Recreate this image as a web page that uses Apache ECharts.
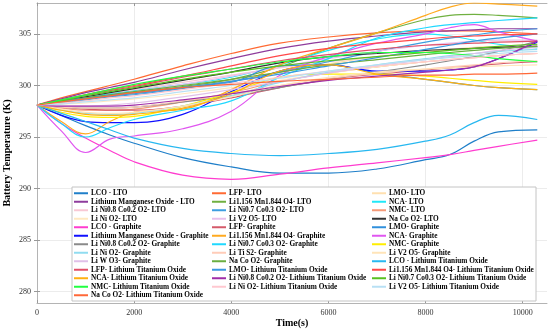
<!DOCTYPE html>
<html>
<head>
<meta charset="utf-8">
<script src="https://cdn.jsdelivr.net/npm/echarts@6/dist/echarts.min.js"></script>
<style>html,body{margin:0;padding:0;background:#fff}#c{width:550px;height:329px}</style>
</head>
<body>
<div id="c"></div>
<script>
var times = [0,500,1000,1500,2000,3000,4000,5000,6000,7000,8000,8500,9000,9500,10300];
var xTicks = [0,2000,4000,6000,8000,10000];
var yTicks = [280,285,290,295,300,305];

var names = [
 'LCO - LTO','LFP- LTO','LMO- LTO',
 'Lithium Manganese Oxide - LTO','Li1.156 Mn1.844 O4- LTO','NCA- LTO',
 'Li Ni0.8 Co0.2 O2- LTO','Li Ni0.7 Co0.3 O2- LTO','NMC- LTO',
 'Li Ni O2- LTO','Li V2 O5- LTO','Na Co O2- LTO',
 'LCO - Graphite','LFP- Graphite','LMO- Graphite',
 'Lithium Manganese Oxide - Graphite','Li1.156 Mn1.844 O4- Graphite','NCA- Graphite',
 'Li Ni0.8 Co0.2 O2- Graphite','Li Ni0.7 Co0.3 O2- Graphite','NMC- Graphite',
 'Li Ni O2- Graphite','Li Ti S2- Graphite','Li V2 O5- Graphite',
 'Li W O3- Graphite','Na Co O2- Graphite','LCO - Lithium Titanium Oxide',
 'LFP- Lithium Titanium Oxide','LMO- Lithium Titanium Oxide','Li1.156 Mn1.844 O4- Lithium Titanium Oxide',
 'NCA- Lithium Titanium Oxide','Li Ni0.8 Co0.2 O2- Lithium Titanium Oxide','Li Ni0.7 Co0.3 O2- Lithium Titanium Oxide',
 'NMC- Lithium Titanium Oxide','Li Ni O2- Lithium Titanium Oxide','Li V2 O5- Lithium Titanium Oxide',
 'Na Co O2- Lithium Titanium Oxide'
];

var colors = [
 '#1f7fc9','#ff6a33','#ffe0b0',
 '#8e3c9c','#70b040','#20e8f8',
 '#f8c8d4','#3d9ee0','#f59a78',
 '#ffe8c0','#e8c0ec','#303030',
 '#ff3ccf','#d45a6a','#3090dc',
 '#1010ff','#ffaa20','#e056f0',
 '#8a8a8a','#20d8ff','#ffee00',
 '#90dcf0','#ffccb8','#ffe4b8',
 '#e0c0e8','#6aae40','#28b8f0',
 '#e05068','#3a98e0','#ff4848',
 '#ffb010','#a02ca8','#58c020',
 '#20ff40','#ffc8d0','#b8e0f4',
 '#ff6838'
];

var s01 = [298.1,297.1,296.1,295.2,294.4,293.0,292.1,291.5,291.5,291.9,292.8,293.3,294.6,295.5,295.7];
var s02 = [298.1,298.8,299.4,300.0,300.6,301.9,303.1,304.1,304.7,305.1,305.3,305.3,305.3,305.2,305.0];
var s03 = [298.1,298.3,298.6,298.9,299.2,299.8,300.5,301.3,302.1,302.8,303.3,303.5,303.7,303.8,304.0];
var s04 = [298.1,298.7,299.3,299.8,300.3,301.5,302.6,303.6,304.3,304.8,305.2,305.3,305.4,305.5,305.5];
var s05 = [298.1,298.4,298.7,299.0,299.3,299.9,300.6,301.8,303.6,305.1,306.4,306.8,306.9,306.8,306.55];
var s06 = [298.1,298.5,298.9,299.2,299.5,300.1,300.8,302.0,303.4,304.5,305.0,304.8,304.4,304.0,303.65];
var s07 = [298.1,298.5,298.9,299.3,299.6,300.3,301.0,301.7,302.3,302.8,303.2,303.4,303.6,303.7,303.9];
var s08 = [298.1,298.3,298.6,298.9,299.1,299.7,300.4,301.3,302.3,303.3,304.2,304.6,304.9,305.2,305.5];
var s09 = [298.1,297.8,297.6,297.6,297.7,298.4,299.3,300.4,301.2,301.8,302.3,302.5,302.7,302.9,303.1];
var s10 = [298.1,298.2,298.3,298.5,298.7,299.2,299.8,300.5,301.2,301.8,302.3,302.5,302.7,302.9,303.1];
var s11 = [298.1,298.4,298.7,299.1,299.4,300.1,300.9,301.8,302.6,303.3,303.9,304.1,304.3,304.4,304.4];
var s12 = [298.1,298.5,298.9,299.3,299.7,300.5,301.3,302.2,302.8,303.1,303.4,303.5,303.6,303.7,303.8];
var s13 = [298.1,296.3,294.9,293.7,292.6,291.3,290.9,291.4,292.0,292.5,293.0,293.3,293.7,294.1,294.7];
var s14 = [298.1,297.9,297.7,297.6,297.6,298.0,298.8,299.8,300.6,301.1,301.5,301.7,301.9,302.1,302.3];
var s15 = [298.1,298.5,298.8,299.1,299.3,299.8,300.3,301.9,302.0,301.2,300.6,300.3,300.0,299.8,299.6];
var s16 = [298.1,297.1,296.5,296.4,296.4,297.2,299.4,301.4,302.0,301.4,301.4,301.5,301.8,302.6,304.2];
var s17 = [298.1,296.5,295.3,296.5,297.4,297.7,299.6,302.0,303.6,305.1,306.8,307.6,308.0,307.9,307.7];
var s18 = [298.1,295.6,293.5,294.8,295.1,295.8,297.5,301.0,302.8,304.1,305.0,305.6,305.9,305.2,304.3];
var s19 = [298.1,297.9,297.8,297.8,297.9,298.4,299.0,299.8,300.6,301.3,302.0,302.4,302.8,303.3,304.3];
var s20 = [298.1,296.3,295.0,295.9,296.7,297.6,298.5,300.8,302.6,304.6,305.6,305.9,306.1,306.3,306.55];
var s21 = [298.1,297.4,297.0,296.9,297.0,298.0,299.3,300.8,301.1,301.1,300.9,300.7,300.5,300.3,300.1];
var s22 = [298.1,297.6,297.3,297.2,297.3,298.0,299.0,300.3,301.3,302.0,302.6,302.9,303.1,303.3,303.5];
var s23 = [298.1,297.9,297.8,297.8,297.9,298.5,299.2,300.0,300.7,301.2,301.6,301.8,302.0,302.2,302.4];
var s24 = [298.1,297.7,297.4,297.3,297.4,298.0,298.9,300.0,300.8,301.3,301.6,301.7,301.8,301.9,302.0];
var s25 = [298.1,298.0,298.0,298.1,298.3,298.9,299.6,300.4,301.2,301.9,302.5,302.8,303.1,303.4,303.7];
var s26 = [298.1,298.4,298.8,299.1,299.4,300.0,300.6,301.3,302.0,302.5,303.0,303.2,303.4,303.6,303.8];
var s27 = [298.1,297.3,296.5,295.7,294.9,293.9,293.4,293.2,293.4,293.8,294.6,295.2,296.4,297.1,296.7];
var s28 = [298.1,298.6,299.1,299.5,299.9,300.8,301.6,302.4,303.0,303.5,303.9,304.0,304.1,304.2,304.3];
var s29 = [298.1,298.4,298.7,299.0,299.2,299.8,300.4,301.1,301.9,302.7,303.5,303.9,304.3,304.6,305.0];
var s30 = [298.1,298.6,299.1,299.6,300.0,300.9,301.9,302.9,303.6,304.1,304.5,304.7,304.8,304.9,305.0];
var s31 = [298.1,297.6,297.2,297.1,297.2,297.8,299.2,301.4,302.0,301.1,300.6,300.3,300.0,299.8,299.6];
var s32 = [298.1,298.0,298.0,298.0,298.1,298.6,299.2,299.9,300.5,300.9,301.3,301.5,301.8,302.6,304.3];
var s33 = [298.1,298.5,299.0,299.4,299.8,300.6,301.3,301.9,302.4,302.8,303.2,303.4,303.6,303.8,304.0];
var s34 = [298.1,298.6,299.1,299.6,300.1,300.9,301.6,302.3,302.8,303.2,303.2,303.1,302.9,302.6,302.3];
var s35 = [298.1,298.3,298.5,298.8,299.0,299.6,300.2,300.8,301.4,301.9,302.3,302.5,302.7,302.9,303.1];
var s36 = [298.1,298.2,298.4,298.6,298.8,299.4,300.0,300.7,301.4,302.0,302.5,302.7,302.9,303.1,303.3];
var s37 = [298.1,298.4,298.7,299.0,299.3,299.8,300.1,300.4,300.6,300.8,301.0,301.0,301.1,301.1,301.2];

var values = [s01,s02,s03,s04,s05,s06,s07,s08,s09,s10,s11,s12,s13,s14,s15,s16,s17,s18,s19,s20,
  s21,s22,s23,s24,s25,s26,s27,s28,s29,s30,s31,s32,s33,s34,s35,s36,s37];

var FONT = '"Liberation Serif","Times New Roman",serif';

var series = values.map(function (v, i) {
  return {
    name: names[i], type: 'line', smooth: 0.4, symbol: 'none', showSymbol: false,
    data: v.map(function (y, j) { return [times[j], y]; }),
    lineStyle: { width: 1.2, color: colors[i] },
    itemStyle: { color: colors[i] },
    emphasis: { disabled: true }, silent: true, z: 2
  };
});

var colX = [74, 212, 372];
var legends = colX.map(function (x, c) {
  var items = names.filter(function (n, i) { return i % 3 === c; });
  return {
    orient: 'vertical', left: x, top: 189, padding: 0,
    icon: 'rect', itemWidth: 14, itemHeight: 2, itemGap: 0,
    selectedMode: false, z: 10,
    textStyle: { fontFamily: FONT, fontWeight: 'bold', fontSize: 7.3, lineHeight: 8.5, color: '#000', padding: [0, 0, 0, -2] },
    data: items
  };
});

function axisCommon() {
  return {
    axisLine: { show: true, lineStyle: { color: '#b4b4b4', width: 1 } },
    axisTick: { show: true, inside: true, length: 3, lineStyle: { color: '#999' } },
    splitLine: { show: false }
  };
}
function plainNum(v) { return String(v); }

var xMain = Object.assign(axisCommon(), {
  type: 'value', min: 0, max: 10500, position: 'bottom',
  name: 'Time(s)', nameLocation: 'middle', nameGap: 15, nameMoveOverlap: false,
  nameTextStyle: { fontFamily: FONT, fontWeight: 'bold', fontSize: 10, color: '#000' },
  axisLabel: { customValues: xTicks, formatter: plainNum, fontFamily: FONT, fontSize: 8, color: '#333', margin: 6 },
  axisTick: { show: true, inside: true, length: 3, customValues: xTicks, lineStyle: { color: '#999' } },
  splitLine: { show: true, lineStyle: { color: '#ececec', width: 1 } }
});
var xTop = Object.assign(axisCommon(), {
  type: 'value', min: 0, max: 10500, position: 'top',
  axisLabel: { show: false },
  axisTick: { show: true, inside: true, length: 3, customValues: xTicks, lineStyle: { color: '#999' } }
});
var yMain = Object.assign(axisCommon(), {
  type: 'value', min: 278.9, max: 308, position: 'left',
  name: 'Battery Temperature (K)', nameLocation: 'middle', nameGap: 25, nameMoveOverlap: false,
  nameTextStyle: { fontFamily: FONT, fontWeight: 'bold', fontSize: 10, color: '#000' },
  axisLabel: { customValues: yTicks, formatter: plainNum, fontFamily: FONT, fontSize: 8, color: '#333', margin: 6 },
  axisTick: { show: true, inside: true, length: 3, customValues: yTicks, lineStyle: { color: '#999' } },
  splitLine: { show: true, lineStyle: { color: '#ececec', width: 1 } }
});
var yRight = Object.assign(axisCommon(), {
  type: 'value', min: 278.9, max: 308, position: 'right',
  axisLabel: { show: false },
  axisTick: { show: true, inside: true, length: 3, customValues: yTicks, lineStyle: { color: '#999' } }
});

var chart = echarts.init(document.getElementById('c'), null, { renderer: 'canvas' });
chart.setOption({
  animation: false,
  backgroundColor: '#fff',
  grid: { left: 37, right: 3, top: 3, bottom: 26, containLabel: false, outerBoundsMode: 'none' },
  xAxis: [xMain, xTop],
  yAxis: [yMain, yRight],
  legend: legends,
  graphic: [{
    type: 'rect', z: 5, silent: true,
    shape: { x: 72, y: 187, width: 464, height: 114 },
    style: { fill: '#fff', stroke: '#c4c4c4', lineWidth: 1 }
  }],
  series: series
});
</script>
</body>
</html>
